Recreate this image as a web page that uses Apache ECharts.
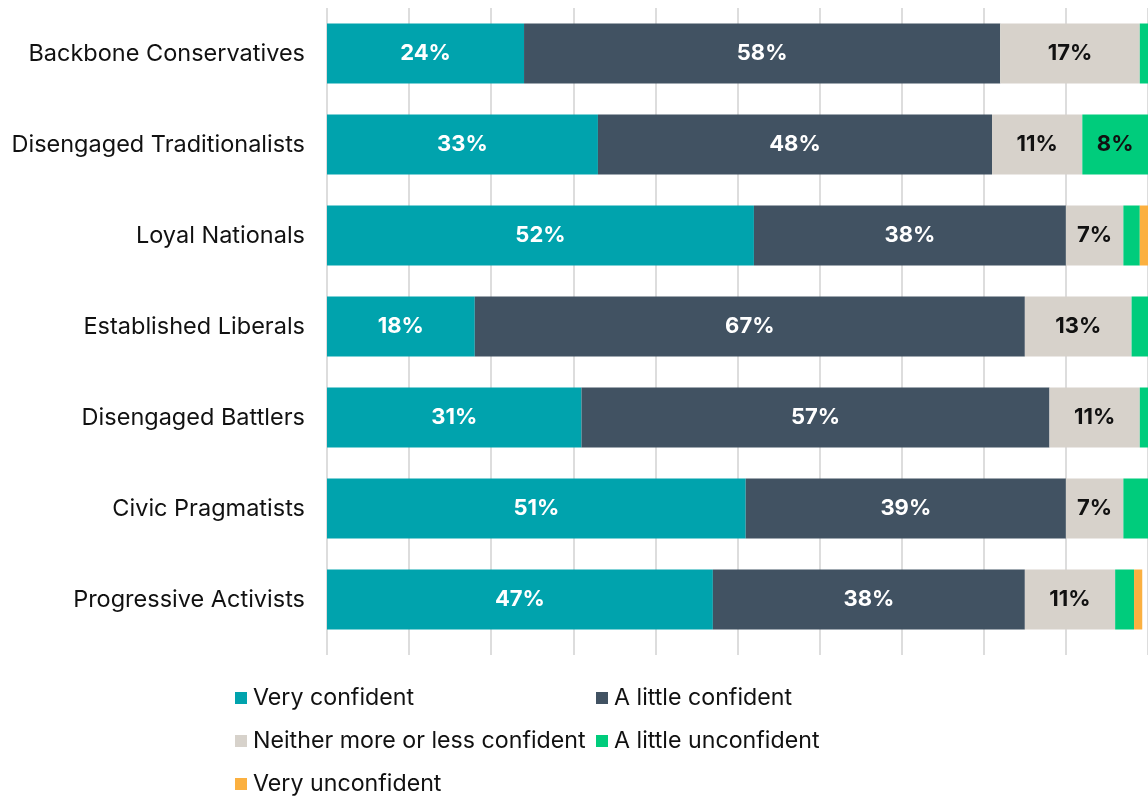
<!DOCTYPE html>
<html>
<head>
<meta charset="utf-8">
<script src="https://cdn.jsdelivr.net/npm/echarts@6/dist/echarts.min.js"></script>
<style>
  html, body { margin: 0; padding: 0; background: #ffffff; }
  #chart { width: 1148px; height: 796px; }
</style>
</head>
<body>
<div id="chart"></div>
<script>
// Segments (top to bottom)
const segments = [
  'Backbone Conservatives',
  'Disengaged Traditionalists',
  'Loyal Nationals',
  'Established Liberals',
  'Disengaged Battlers',
  'Civic Pragmatists',
  'Progressive Activists'
];

// Share of each segment per confidence level (%)
const veryConfident       = [24, 33, 52, 18, 31, 51, 47];
const littleConfident     = [58, 48, 38, 67, 57, 39, 38];
const neitherConfident    = [17, 11, 7, 13, 11, 7, 11];
const littleUnconfident   = [1, 8, 2, 2, 1, 3, 2.3];
const veryUnconfident     = [0, 0, 1, 0, 0, 0, 1];

const seriesNames = [
  'Very confident',
  'A little confident',
  'Neither more or less confident',
  'A little unconfident',
  'Very unconfident'
];
const seriesValues = [veryConfident, littleConfident, neitherConfident, littleUnconfident, veryUnconfident];
const colors = ['#00A3AD', '#415262', '#D7D2CB', '#00CC7C', '#FBB040'];
const labelColors = ['#ffffff', '#ffffff', '#111111', '#111111', '#111111'];

const FONT = 'Inter, "Noto Sans", sans-serif';

const chart = echarts.init(document.getElementById('chart'), null, { renderer: 'canvas' });

const series = seriesNames.map((name, i) => ({
  name: name,
  type: 'bar',
  stack: 'total',
  barWidth: 60,
  itemStyle: { color: colors[i] },
  label: {
    show: true,
    position: 'inside',
    color: labelColors[i],
    fontFamily: FONT,
    fontWeight: 'bold',
    fontSize: 22,
    formatter: p => (p.value >= 5 ? Math.round(p.value) + '%' : '')
  },
  emphasis: { disabled: true },
  data: seriesValues[i]
}));

// Legend laid out in two aligned columns, one entry per legend box
const legendSlots = [
  { name: 'Very confident', left: 235, top: 685 },
  { name: 'A little confident', left: 596, top: 685 },
  { name: 'Neither more or less confident', left: 235, top: 728 },
  { name: 'A little unconfident', left: 596, top: 728 },
  { name: 'Very unconfident', left: 235, top: 771 }
];
const legends = legendSlots.map(s => ({
  left: s.left,
  top: s.top,
  orient: 'horizontal',
  itemWidth: 12,
  itemHeight: 12,
  icon: 'rect',
  selectedMode: false,
  padding: 0,
  textStyle: {
    fontFamily: FONT,
    fontSize: 23.2,
    color: '#111111',
    lineHeight: 26,
    padding: [0, 0, 0, 1]
  },
  data: [s.name]
}));

chart.setOption({
  animation: false,
  color: colors,
  grid: { left: 327, right: -6, top: 8, bottom: 151, containLabel: false },
  xAxis: {
    type: 'value',
    min: 0,
    max: 100,
    interval: 10,
    axisLine: { show: false },
    axisLabel: { show: false },
    axisTick: { show: true, length: 10, lineStyle: { color: '#dddddd', width: 2 } },
    splitLine: { show: true, lineStyle: { color: '#dddddd', width: 2 } }
  },
  yAxis: {
    type: 'category',
    inverse: true,
    data: segments,
    axisLine: { show: false },
    axisTick: { show: false },
    axisLabel: {
      margin: 22,
      fontFamily: FONT,
      fontSize: 23.5,
      color: '#111111'
    }
  },
  legend: legends,
  series: series
});
</script>
</body>
</html>
